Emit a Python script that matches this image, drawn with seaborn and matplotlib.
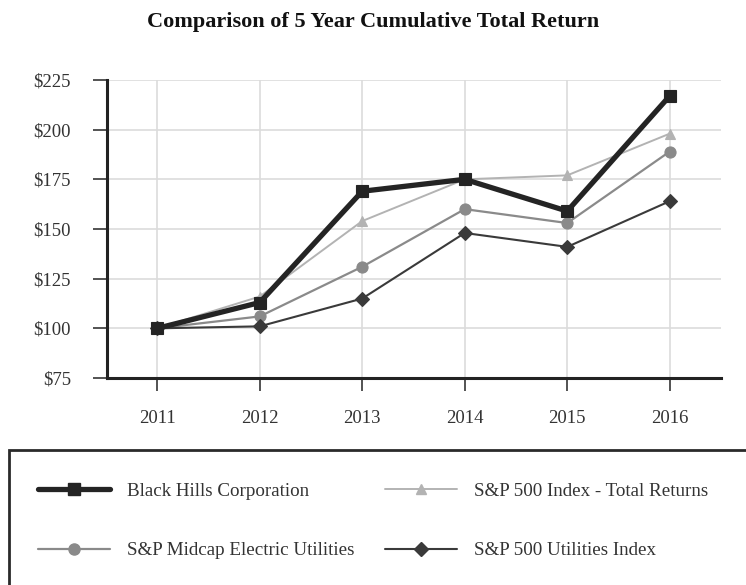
import matplotlib
matplotlib.use('Agg')
import matplotlib.pyplot as plt
import seaborn as sns
from matplotlib.lines import Line2D
from matplotlib.patches import Rectangle

# chart data
years = [2011, 2012, 2013, 2014, 2015, 2016]
black_hills = [100, 113, 169, 175, 159, 217]
sp500_total = [100, 116, 154, 175, 177, 198]
midcap_elec = [100, 106, 131, 160, 153, 189]
sp500_util = [100, 101, 115, 148, 141, 164]
y_ticks = [75, 100, 125, 150, 175, 200, 225]
y_labels = ['$' + str(v) for v in y_ticks]

sns.set_theme(style='white')
plt.rcParams['font.family'] = ['Liberation Serif', 'DejaVu Serif']

# series styles, drawn in this order
series = [
    ('S&P 500 Index - Total Returns', sp500_total, '#b3b3b3', 1.4, '^', 7),
    ('S&P Midcap Electric Utilities', midcap_elec, '#8a8a8a', 1.6, 'o', 8),
    ('S&P 500 Utilities Index', sp500_util, '#3a3a3a', 1.5, 'D', 7.5),
    ('Black Hills Corporation', black_hills, '#242424', 3.8, 's', 8.5),
]

fig = plt.figure(figsize=(7.46, 5.85), dpi=100)
ax = fig.add_axes([107 / 746, 1 - 378 / 585, (721 - 107) / 746, (378 - 80) / 585])

handles = {}
for name, vals, col, lw, mk, ms in series:
    sns.lineplot(x=years, y=vals, ax=ax, color=col, linewidth=lw, marker=mk,
                 markersize=ms, markeredgecolor=col, markeredgewidth=0.8)
    handles[name] = Line2D([], [], color=col, linewidth=lw, marker=mk,
                           markersize=ms, markeredgecolor=col)

ax.set_xlim(2010.51, 2016.5)
ax.set_ylim(75, 225)
ax.set_xticks(years)
ax.set_xticklabels([str(y) for y in years])
ax.set_yticks(y_ticks)
ax.set_yticklabels(y_labels)
ax.grid(True, color='#dcdcdc', linewidth=1.2)
ax.set_axisbelow(True)
for s in ['top', 'right']:
    ax.spines[s].set_visible(False)
for s in ['left', 'bottom']:
    ax.spines[s].set_color('#222222')
    ax.spines[s].set_linewidth(2.2)
ax.tick_params(axis='y', length=10, width=1.3, color='#444444', pad=16,
               labelsize=13.5, labelcolor='#333333', left=True)
ax.tick_params(axis='x', length=9, width=1.3, color='#444444', pad=14,
               labelsize=13.5, labelcolor='#333333', bottom=True)

fig.text(0.5, 1 - 22 / 585, 'Comparison of 5 Year Cumulative Total Return',
         ha='center', va='center', fontsize=16, fontweight='bold', color='#111111')

# legend box, running off the right and bottom edges
fig.patches.append(Rectangle((9 / 746, -0.05), 1.1, 0.05 + 1 - 450 / 585,
                             transform=fig.transFigure, fill=False,
                             edgecolor='#2a2a2a', linewidth=2, clip_on=False))

cols = [
    (38, ['Black Hills Corporation', 'S&P Midcap Electric Utilities']),
    (385, ['S&P 500 Index - Total Returns', 'S&P 500 Utilities Index']),
]
for x0, names in cols:
    fig.legend([handles[n] for n in names], names, loc='center left',
               bbox_to_anchor=(x0 / 746, 1 - 521 / 585), frameon=False,
               fontsize=13.7, handlelength=3.8, handletextpad=0.9,
               labelspacing=2.2, borderpad=0, borderaxespad=0,
               labelcolor='#333333')

fig.savefig('out.png', dpi=100)
